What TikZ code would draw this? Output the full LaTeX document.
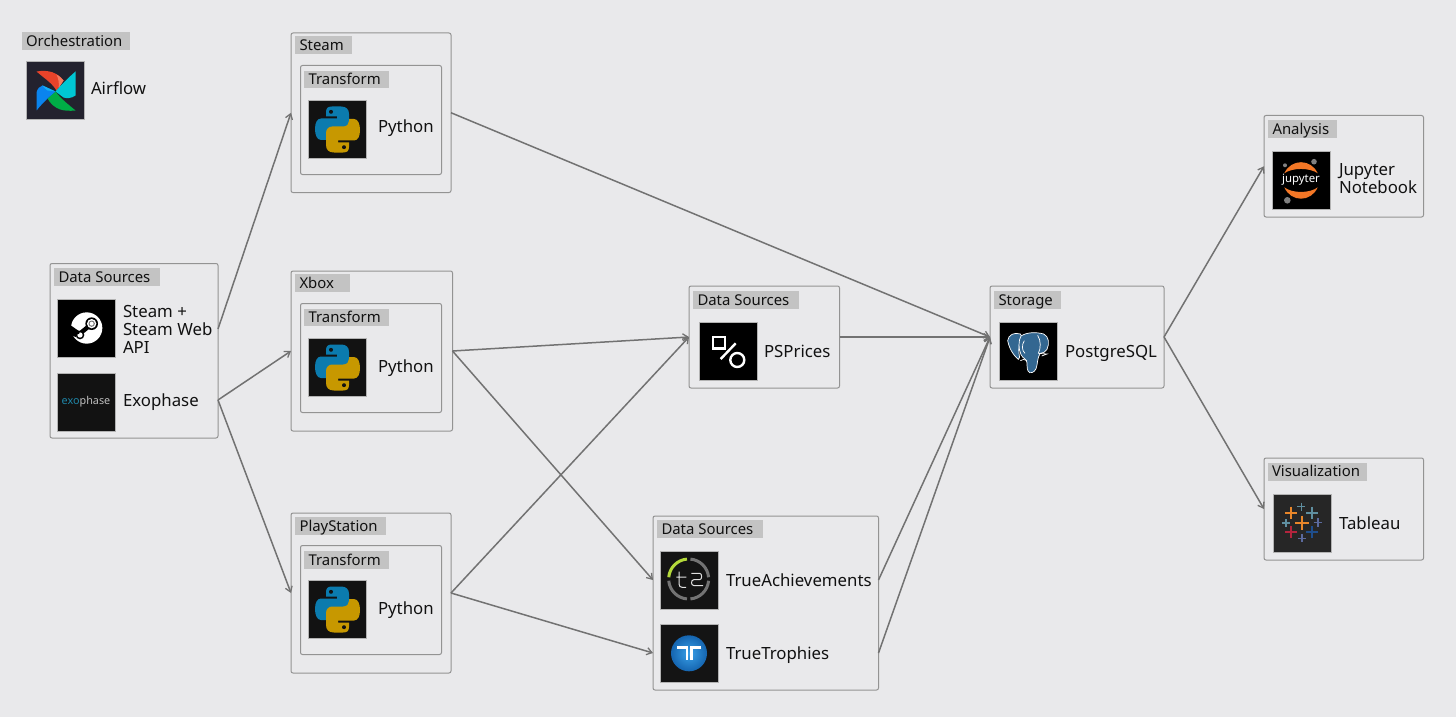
\documentclass[tikz,border=0pt]{standalone}
\usepackage{fontspec}
\setmainfont{Noto Sans}
\usetikzlibrary{fit,arrows.meta,calc}
\definecolor{bgc}{HTML}{E9E9EB}
\definecolor{boxc}{HTML}{939393}
\definecolor{labc}{HTML}{C3C3C3}
\definecolor{linec}{HTML}{727272}
\definecolor{inkc}{HTML}{111111}
\definecolor{pyb}{HTML}{0B7BAE}
\definecolor{pyy}{HTML}{C79800}
\definecolor{airf}{HTML}{23222E}
\definecolor{afred}{HTML}{E8432A}
\definecolor{aforg}{HTML}{F47A5E}
\definecolor{afteal}{HTML}{00C7D4}
\definecolor{afgreen}{HTML}{00AD46}
\definecolor{afblue}{HTML}{0A84EE}
\definecolor{aflblue}{HTML}{14B0F5}
\definecolor{exoc}{HTML}{1F86A8}
\definecolor{talime}{HTML}{B4D93A}
\definecolor{ttl}{HTML}{3AA0E8}
\definecolor{ttd}{HTML}{1565B0}
\definecolor{pgc}{HTML}{336791}
\definecolor{jo}{HTML}{F37726}
\definecolor{tao}{HTML}{E8862A}
\definecolor{tat}{HTML}{5F8FA0}
\definecolor{tap}{HTML}{5B6A9E}
\definecolor{tar}{HTML}{B3243D}
\definecolor{tabl}{HTML}{1F4E8C}
\tikzset{
  boxnode/.style={draw=boxc,line width=0.5pt,rounded corners=1pt,inner sep=0pt,outer sep=0pt},
  labnode/.style={fill=labc,draw=none,inner sep=0pt,outer sep=0pt},
  iconnode/.style={draw=boxc!70,line width=0.25pt,inner sep=0pt,outer sep=0pt},
  mtxt/.style={font=\fontsize{8.4}{9}\selectfont,text=inkc,inner sep=0pt,outer sep=0pt,anchor=west,align=left},
  txt/.style={font=\fontsize{8.4}{9}\selectfont,text=inkc,inner sep=0pt,outer sep=0pt,anchor=west,text height=7pt,text depth=1pt},
  labtxt/.style={font=\fontsize{7.45}{9}\selectfont,text=inkc,inner sep=0pt,outer sep=0pt,anchor=west,text height=6.3pt,text depth=1pt},
  conn/.style={draw=linec,line width=0.75pt,-{Straight Barb[length=2.6pt,width=3.6pt,line width=0.65pt]}}
}
\newcommand{\bx}[5]{\node[boxnode,fit={(#2,#3)(#4,#5)}] (#1) {};}
\newcommand{\lb}[6]{\node[labnode,fit={(#2,#3)(#4,#5)}] (#1) {};
  \node[labtxt] (#1t) at ({#2+4.5},{(#3+#5)/2}) {#6};}
\newcommand{\ic}[4]{\node[iconnode,fill=#4,fit={(#2,#3)({#2+58},{#3+58})}] (#1) {};}
\newcommand{\snake}{(24,6.5) -- (33,6.5) .. controls (38,6.5) and (41,9) .. (41,14) -- (41,26) .. controls (41,30) and (38,32.5) .. (35,32.5) -- (24,32.5) .. controls (20,32.5) and (18,35) .. (18,38) -- (18,40) -- (13,40) .. controls (9,40) and (7,35) .. (7,29) .. controls (7,23) and (9,18.5) .. (13,18.5) -- (29,18.5) -- (29,16.5) -- (18,16.5) -- (18,12) .. controls (18,8) and (20,6.5) .. (24,6.5) -- cycle}
\newcommand{\pyicon}[3]{\ic{#1}{#2}{#3}{black!93}
  \begin{scope}[shift={(#2,#3)}]
    \fill[pyb] \snake;
    \fill[black!93] (23,11.8) circle (2);
    \begin{scope}[shift={(59,59)},xscale=-1,yscale=-1]
      \fill[pyy] \snake;
      \fill[black!93] (23,11.8) circle (2);
    \end{scope}
  \end{scope}}
\newcommand{\crossm}[5]{\draw[#5,line width=#4] ({#1-#3},#2) -- ({#1+#3},#2) ({#1},{#2-#3}) -- ({#1},{#2+#3});}
\begin{document}
\begin{tikzpicture}[x=0.5pt,y=-0.5pt]
\useasboundingbox (0,0) rectangle (1456,717);
\fill[bgc] (0,0) rectangle (1456,717);

% Orchestration
\lb{orch}{21.5}{32}{129.5}{50}{Orchestration}
\ic{airflow}{26.5}{61.5}{airf}
\node[txt] (airflowt) at (91,89) {Airflow};
\begin{scope}[shift={(26.5,61.5)}]
  \fill[afred] (10,10) .. controls (22,8) and (31,11) .. (37,19) -- (30,29) .. controls (25,21) and (18,17) .. (10,10) -- cycle;
  \fill[aforg] (30,13) .. controls (33,14.5) and (35,16.5) .. (37,19) -- (32,27) .. controls (33,22) and (32,17) .. (30,13) -- cycle;
  \fill[afteal] (49,10) -- (49,34) .. controls (45,37) and (40,37) .. (37,36) -- (29,30) .. controls (34,24) and (42,16) .. (49,10) -- cycle;
  \fill[afgreen] (49,49) .. controls (38,50) and (28,49) .. (21,37) -- (29,30) .. controls (35,38) and (42,43) .. (49,49) -- cycle;
  \fill[afblue] (10,49) -- (10,31) .. controls (11,27) and (13,25) .. (16,24) -- (29,30) -- (21,37) .. controls (18,40) and (14,44) .. (10,49) -- cycle;
  \fill[aflblue] (16,24) -- (29,30) -- (21,29) .. controls (19,27) and (17,26) .. (16,24) -- cycle;
\end{scope}

% Data sources (left)
\bx{ds}{50}{263.5}{218}{438}
\lb{dsl}{54}{268}{160}{286}{Data Sources}
\ic{steam}{57}{299}{black}
\begin{scope}[shift={(55,297)},scale=1/3]
  \fill[white] (95,93) circle (47);
  \fill[black] (40,80) -- (70,101) -- (62,120) -- (42,112) -- cycle;
  \draw[black,line width=2.2pt] (72,112) -- (105,85);
  \fill[black] (110,80) circle (19);
  \fill[white] (110,80) circle (14);
  \fill[black!55] (110,80) circle (9.5);
  \fill[white] (110,80) circle (6);
  \fill[black] (75,114) circle (13);
  \fill[white] (75,114) circle (8);
  \fill[black] (68,106) circle (6);
\end{scope}
\node[mtxt] (steamt) at (123,329) {Steam +\\Steam Web\\API};
\ic{exo}{57}{373}{black!93}
\node[inner sep=0pt,font=\fontsize{5.4}{6}\selectfont] (exot) at (86,402) {\textcolor{exoc}{exo}\textcolor{black!25}{phase}};
\node[txt] (exophase) at (123,400) {Exophase};

% Steam
\bx{steambox}{291}{33}{451}{192.5}
\lb{steaml}{295}{36}{352}{54}{Steam}
\bx{steamin}{300.5}{65.5}{441.5}{174.5}
\lb{steamtr}{304}{71}{389}{88}{Transform}
\pyicon{py1}{308}{100}
\node[txt] (py1t) at (378,127) {Python};

% Xbox
\bx{xbox}{291}{271}{452.5}{431}
\lb{xboxl}{295}{274}{350}{292}{Xbox}
\bx{xboxin}{300.5}{303.5}{441.5}{412.5}
\lb{xboxtr}{304}{309}{389}{326}{Transform}
\pyicon{py2}{308}{338}
\node[txt] (py2t) at (378,366) {Python};

% PlayStation
\bx{ps}{291}{513}{451}{673}
\lb{psl}{295}{517}{386}{535}{PlayStation}
\bx{psin}{300.5}{545.5}{441.5}{654.5}
\lb{pstr}{304}{551}{389}{569}{Transform}
\pyicon{py3}{308}{580}
\node[txt] (py3t) at (378,608) {Python};

% PSPrices
\bx{pp}{689}{286}{839.5}{388}
\lb{ppl}{693}{291}{799}{309}{Data Sources}
\ic{ppi}{699}{322}{black}
\begin{scope}[shift={(699,322)}]
  \draw[white,line width=1.2pt] (14,14.7) rectangle (25.7,26.3);
  \draw[white,line width=1.2pt] (21.7,37) -- (36.7,21.3);
  \draw[white,line width=1.2pt] (38.3,38) circle (7);
\end{scope}
\node[txt] (ppt) at (764,351) {PSPrices};

% TrueAchievements / TrueTrophies
\bx{ta}{653}{516}{878.5}{690}
\lb{tal}{657}{520}{763}{538}{Data Sources}
\ic{tai}{660}{551}{black!92}
\begin{scope}[shift={(658,549)},scale=1/3]
  \draw[black!55,line width=1.5pt] (92,90) ++(275:60) arc[start angle=275,end angle=355,radius=60];
  \draw[black!55,line width=1.5pt] (92,90) ++(5:60) arc[start angle=5,end angle=85,radius=60];
  \draw[black!55,line width=1.5pt] (92,90) ++(95:60) arc[start angle=95,end angle=175,radius=60];
  \draw[talime,line width=1.5pt] (92,90) ++(185:60) arc[start angle=185,end angle=265,radius=60];
  \draw[black!12,line width=0.5pt] (63,68) -- (63,105) .. controls (63,112) and (67,115) .. (73,115) -- (84,115) (55,84) -- (85,84);
  \draw[black!12,line width=0.5pt] (100,73) -- (125,73) .. controls (133,73) and (133,92) .. (125,92) -- (108,92) .. controls (98,92) and (98,110) .. (108,110) -- (135,110);
\end{scope}
\node[txt] (tat) at (726,580) {TrueAchievements};
\ic{tti}{660}{624}{black!92}
\begin{scope}[shift={(660,624)}]
  \shade[inner color=ttl,outer color=ttd] (29,29.3) circle (18);
  \draw[white,line width=1.3pt] (17.3,23.7) -- (27,23.7) -- (27,35.5) (41.3,23.7) -- (31.5,23.7) -- (31.5,35.5);
\end{scope}
\node[txt] (ttt) at (726,653) {TrueTrophies};

% Storage
\bx{storage}{990}{286}{1164}{388}
\lb{stl}{994}{291}{1061}{309}{Storage}
\ic{pg}{999}{322}{black}
\begin{scope}[shift={(997,320)},scale=1/3]
  \fill[pgc,draw=white,line width=0.35pt] (32,62) .. controls (34,44) and (52,36) .. (70,42) .. controls (76,46) and (76,52) .. (72,60) .. controls (66,72) and (64,85) .. (66,100) .. controls (67,110) and (70,116) .. (64,118) .. controls (54,110) and (38,92) .. (32,62) -- cycle;
  \fill[pgc,draw=white,line width=0.35pt] (72,48) .. controls (90,36) and (118,36) .. (140,42) .. controls (156,50) and (158,70) .. (150,88) .. controls (146,96) and (136,100) .. (130,100) .. controls (124,108) and (122,120) .. (120,135) .. controls (118,152) and (108,160) .. (98,158) .. controls (90,154) and (90,140) .. (90,128) .. controls (88,116) and (78,116) .. (72,104) .. controls (64,88) and (64,60) .. (72,48) -- cycle;
  \draw[white,line width=0.35pt] (122,46) .. controls (132,62) and (132,85) .. (124,100) -- (150,102) -- (134,108);
  \draw[white,line width=0.35pt] (70,122) .. controls (76,118) and (84,116) .. (90,122);
  \draw[white,line width=0.35pt] (82,62) .. controls (74,74) and (74,92) .. (84,100);
\end{scope}
\node[txt] (pgt) at (1065,351) {PostgreSQL};

% Analysis
\bx{an}{1264}{115.5}{1423.5}{217}
\lb{anl}{1268}{120}{1337}{138}{Analysis}
\ic{jup}{1272}{151}{black}
\begin{scope}[shift={(1272,151)}]
  \fill[jo] (12.3,22.3) .. controls (19,7.5) and (39,7.5) .. (45.7,22.3) .. controls (38,16.5) and (20,16.5) .. (12.3,22.3) -- cycle;
  \fill[jo] (12.3,36.3) .. controls (19,51.5) and (39,51.5) .. (45.7,36.3) .. controls (38,42.5) and (20,42.5) .. (12.3,36.3) -- cycle;
  \fill[black!50] (42,10.7) circle (2.8) (13,14.3) circle (2) (15.3,49.3) circle (3.3);
\end{scope}
\node[inner sep=0pt,text=white,font=\fontsize{5.7}{6}\selectfont] (jupt) at (1301,180) {jupyter};
\node[mtxt] (ant) at (1339,179) {Jupyter\\Notebook};

% Visualization
\bx{viz}{1264}{458}{1423.5}{560}
\lb{vizl}{1267.5}{462.5}{1367}{480.5}{Visualization}
\ic{tabi}{1273}{494}{black!85}
\begin{scope}[shift={(1273,494)}]
  \crossm{29}{28.7}{7}{1.1pt}{tao}
  \crossm{18.3}{18.7}{6}{0.9pt}{tao}
  \crossm{39.3}{18.7}{6}{0.9pt}{tat}
  \crossm{28.3}{12.7}{4}{0.6pt}{tat}
  \crossm{13}{29}{4}{0.6pt}{tat}
  \crossm{45}{28.3}{4.3}{0.7pt}{tap}
  \crossm{18.3}{38.3}{6}{0.9pt}{tar}
  \crossm{39.3}{38.3}{6}{0.9pt}{tabl}
  \crossm{29}{44.3}{4}{0.7pt}{tap}
\end{scope}
\node[txt] (tabt) at (1339,523) {Tableau};

% Connectors
\draw[conn] (ds.east |- steamt) -- (steambox.west);
\draw[conn] (ds.east |- exophase) -- (xbox.west);
\draw[conn] (ds.east |- exophase) -- (ps.west);
\draw[conn] (steambox.east) -- (storage.west);
\draw[conn] (xbox.east) -- (pp.west);
\draw[conn] (xbox.east) -- (ta.west |- tat);
\draw[conn] (ps.east) -- (pp.west);
\draw[conn] (ps.east) -- (ta.west |- ttt);
\draw[conn] (pp.east) -- (storage.west);
\draw[conn] (ta.east |- tat) -- (storage.west);
\draw[conn] (ta.east |- ttt) -- (storage.west);
\draw[conn] (storage.east) -- (an.west);
\draw[conn] (storage.east) -- (viz.west);
\end{tikzpicture}
\end{document}
